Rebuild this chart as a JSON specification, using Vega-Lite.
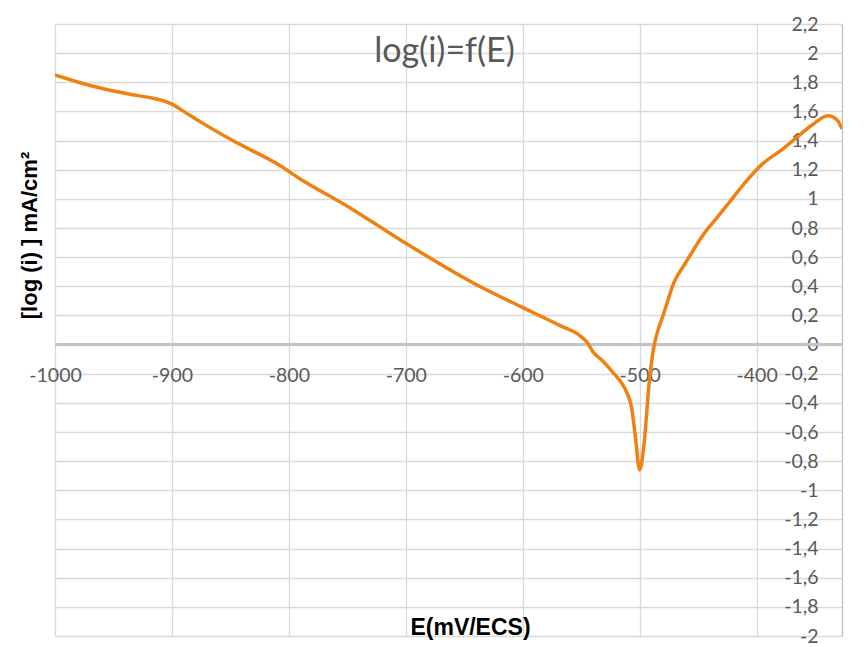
{
  "$schema": "https://vega.github.io/schema/vega-lite/v6.json",
  "width": 787,
  "height": 612,
  "autosize": "none",
  "padding": {"left": 55, "top": 24, "right": 26, "bottom": 11},
  "background": "white",
  "config": {
    "view": {"stroke": null},
    "font": "Lato"
  },
  "title": {
    "text": "log(i)=f(E)",
    "font": "Lato",
    "fontSize": 34,
    "fontWeight": "normal",
    "color": "#595959",
    "anchor": "middle",
    "baseline": "middle",
    "offset": -72,
    "dx": -4
  },
  "data": {
    "values": [
      {"E": -1000, "logi": 1.85},
      {"E": -980, "logi": 1.80},
      {"E": -956, "logi": 1.75},
      {"E": -930, "logi": 1.71},
      {"E": -916, "logi": 1.69},
      {"E": -900, "logi": 1.65},
      {"E": -888, "logi": 1.59},
      {"E": -876, "logi": 1.53},
      {"E": -848, "logi": 1.40},
      {"E": -808, "logi": 1.23},
      {"E": -791, "logi": 1.14},
      {"E": -750, "logi": 0.95},
      {"E": -699, "logi": 0.69},
      {"E": -637, "logi": 0.40},
      {"E": -599, "logi": 0.25},
      {"E": -568, "logi": 0.13},
      {"E": -551, "logi": 0.06},
      {"E": -545, "logi": 0.015},
      {"E": -540, "logi": -0.05},
      {"E": -532, "logi": -0.11},
      {"E": -523, "logi": -0.19},
      {"E": -515, "logi": -0.27},
      {"E": -511, "logi": -0.33},
      {"E": -507, "logi": -0.43},
      {"E": -504, "logi": -0.61},
      {"E": -500, "logi": -0.86},
      {"E": -496, "logi": -0.66},
      {"E": -492, "logi": -0.27},
      {"E": -488, "logi": -0.02},
      {"E": -485, "logi": 0.08},
      {"E": -480, "logi": 0.2},
      {"E": -476, "logi": 0.3},
      {"E": -472, "logi": 0.40},
      {"E": -468, "logi": 0.47},
      {"E": -464, "logi": 0.52},
      {"E": -457, "logi": 0.61},
      {"E": -446, "logi": 0.75},
      {"E": -434, "logi": 0.87},
      {"E": -423, "logi": 0.98},
      {"E": -409, "logi": 1.12},
      {"E": -395, "logi": 1.24},
      {"E": -378, "logi": 1.34},
      {"E": -366, "logi": 1.42},
      {"E": -352, "logi": 1.51},
      {"E": -339, "logi": 1.57},
      {"E": -331, "logi": 1.54},
      {"E": -327, "logi": 1.48}
    ]
  },
  "layer": [
    {
      "mark": {"type": "rule", "color": "#c4c4c4", "strokeWidth": 1.4},
      "encoding": {
        "y": {"datum": 0, "type": "quantitative"}
      }
    },
    {
      "mark": {"type": "line", "color": "#F0800F", "strokeWidth": 3.5, "interpolate": "monotone", "clip": true},
      "encoding": {
        "x": {
          "field": "E",
          "type": "quantitative",
          "scale": {"domain": [-1000, -327], "nice": false, "zero": false},
          "axis": {
            "orient": "bottom",
            "values": [-1000, -900, -800, -700, -600, -500, -400],
            "tickCount": 20,
            "labelExpr": "(datum.value < 0 ? '-' : '') + format(abs(datum.value), 'd')",
            "domain": false,
            "ticks": false,
            "tickSize": 0,
            "grid": true,
            "gridColor": "#d9d9d9",
            "gridWidth": 1.3,
            "labelFont": "Lato",
            "labelFontSize": 19.5,
            "labelColor": "#595959",
            "labelBaseline": "middle",
            "labelPadding": -261,
            "labelFlush": false,
            "labelOverlap": false,
            "title": "E(mV/ECS)",
            "titleFont": "Liberation Sans",
            "titleFontSize": 23,
            "titleFontWeight": "bold",
            "titleColor": "#000000",
            "titleX": 415,
            "titleY": -9,
            "titleAlign": "center",
            "titleBaseline": "middle"
          }
        },
        "y": {
          "field": "logi",
          "type": "quantitative",
          "scale": {"domain": [-2, 2.2], "nice": false, "zero": false},
          "axis": {
            "orient": "right",
            "values": [-2, -1.8, -1.6, -1.4, -1.2, -1, -0.8, -0.6, -0.4, -0.2, 0, 0.2, 0.4, 0.6, 0.8, 1, 1.2, 1.4, 1.6, 1.8, 2, 2.2],
            "tickCount": 40,
            "labelExpr": "(datum.value < -0.0001 ? '-' : '') + replace(format(abs(datum.value), '.1~f'), '.', ',')",
            "domain": true,
            "domainColor": "#bfbfbf",
            "domainWidth": 1.3,
            "ticks": false,
            "tickSize": 0,
            "grid": true,
            "gridColor": "#d9d9d9",
            "gridWidth": 1.3,
            "labelFont": "Lato",
            "labelFontSize": 19.5,
            "labelColor": "#595959",
            "labelAlign": "right",
            "labelBaseline": "middle",
            "labelPadding": -24,
            "labelFlush": false,
            "labelOverlap": false,
            "title": "[log (i) ] mA/cm²",
            "titleFont": "Liberation Sans",
            "titleFontSize": 22,
            "titleFontWeight": "bold",
            "titleColor": "#000000",
            "titleAngle": 270,
            "titleX": -813,
            "titleY": 211,
            "titleAlign": "center",
            "titleBaseline": "middle"
          }
        }
      }
    }
  ]
}
